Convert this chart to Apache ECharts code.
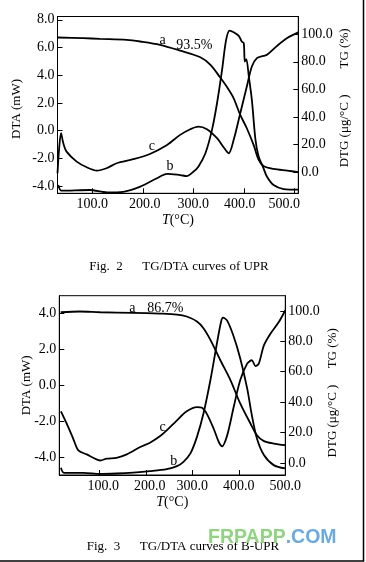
<!DOCTYPE html>
<html><head><meta charset="utf-8">
<script src="https://cdn.jsdelivr.net/npm/echarts@6/dist/echarts.min.js"></script>
<style>html,body{margin:0;padding:0;background:#fff}#c{width:366px;height:562px}</style>
</head><body><div id="c"></div>
<script>
// ---- tick labels ----
const xTicks = [100, 200, 300, 400, 500];
const dtaTicks1 = [-4, -2, 0, 2, 4, 6, 8];
const dtaTicks2 = [-4, -2, 0, 2, 4];
const rightTicks = [0, 20, 40, 60, 80, 100];

// ---- Fig. 2  UPR : [T (°C), value] ----
const tgUPR = [[31,97.6],[82,97.1],[115,96.6],[168,95.9],[195,94.7],[234,92.3],[274,88.1],[314,83.3],[334,77.8],[353,68.8],[367,61.6],[380,53.6],[393,41.5],[406,31.9],[420,19.3],[429,9.4],[439,4.6],[459,2.4],[486,1.2],[508,0.2]];
const dtgUPR = [[32.5,-9.2],[39,-13.3],[95,-12.8],[129,-14.5],[161,-14.1],[195,-10.4],[228,-4.3],[248,-1.1],[274,-2.0],[287,-2.7],[300,0.4],[310,4.1],[324,13.8],[337,30.7],[347,50],[357,74.1],[365,95.9],[372,102.6],[380,101.4],[390,98.8],[396,94.7],[400,93.5],[402,80.2],[405,81.9],[410,69.3],[416,52.4],[423,24],[429,12],[439,3],[446,-3.2],[459,-9.2],[479,-12.1],[508,-12.5]];
const dtaUPR = [[31,-3.08],[34,-1.4],[38,-0.19],[42.5,-0.92],[49,-1.52],[69,-2.24],[89,-2.65],[109,-2.89],[128,-2.72],[148,-2.36],[181,-2.07],[214,-1.69],[248,-1.04],[274,-0.31],[294,0.10],[310,0.29],[327,0.10],[347,-0.55],[360,-1.2],[370,-1.64],[380,-0.67],[393,1.25],[406,3.18],[416,4.63],[426,5.23],[439,5.40],[446,5.47],[466,6.12],[486,6.68],[508,7.09]];

// ---- Fig. 3  B-UPR ----
const tgBUPR = [[17,99.1],[58,99.6],[102,99.1],[173,98.7],[231,98.2],[267,97.6],[288,96.3],[310,93.0],[324,88.6],[339,80.9],[360,67.7],[382,54.5],[403,39.1],[425,25.9],[439,18.2],[454,14.3],[475,12.7],[500,11.6]];
const dtgBUPR = [[17.5,-3.3],[24,-6.6],[66,-6.6],[102,-7.3],[137,-7.0],[173,-6.4],[209,-5.5],[245,-4.2],[267,-2.2],[281,0.7],[296,6.2],[310,17.1],[324,32.5],[339,54.5],[353,78.7],[362,93],[366,95.6],[375,93.6],[389,83.1],[403,68.8],[418,49],[428,31.4],[439,16],[454,5.1],[475,-1.5],[500,-3.7]];
const dtaBUPR = [[17.5,-1.45],[30,-2.14],[44,-2.98],[55,-3.63],[73,-3.85],[94,-4.13],[102,-4.19],[116,-4.09],[137,-4.04],[159,-3.85],[188,-3.44],[209,-3.2],[231,-2.83],[245,-2.51],[267,-1.95],[288,-1.45],[310,-1.21],[321,-1.25],[331,-1.58],[346,-2.42],[357,-3.16],[364,-3.4],[375,-2.79],[389,-1.21],[403,0.28],[418,1.21],[428,1.4],[436,1.07],[443,1.21],[454,2.23],[468,2.88],[486,3.53],[500,4.19]];

// ---- curve annotations [T, value, text] ----
const notesRight1 = [[239,95.4,'a'],[302,92.2,'93.5%'],[254,4.1,'b']];
const notesLeft1 = [[218,-1.16,'c']];
const notesRight2 = [[171,101.8,'a'],[242,101.8,'86.7%'],[260,1.3,'b']];
const notesLeft2 = [[236,-2.33,'c']];

const captions = ['Fig.  2      TG/DTA curves of UPR', 'Fig.  3      TG/DTA curves of B-UPR'];

const SERIF = '"Liberation Serif","Times New Roman",serif';
const fmt = v => v.toFixed(1);
const lblFont = {color: '#000', fontFamily: SERIF, fontSize: 14};

// printed x labels sit a little off their ticks in the scanned figure
function xLabelFmt(shifts) {
  return v => shifts[v] ? '{' + shifts[v] + '|' + fmt(v) + '}' : fmt(v);
}
const xRich = {
  L4: Object.assign({padding: [0, 8, 0, 0]}, lblFont),
  L10: Object.assign({padding: [0, 20, 0, 0]}, lblFont),
  R2: Object.assign({padding: [0, 0, 0, 4]}, lblFont),
  R4: Object.assign({padding: [0, 0, 0, 8]}, lblFont),
  R8: Object.assign({padding: [0, 0, 0, 16]}, lblFont)
};

function xAx(g, min, max, shifts) {
  return {
    type: 'value', gridIndex: g, min, max,
    axisLine: {onZero: false, lineStyle: {color: '#000', width: 1}},
    axisTick: {inside: true, length: 5, customValues: xTicks, lineStyle: {color: '#000'}},
    axisLabel: Object.assign({customValues: xTicks, formatter: xLabelFmt(shifts), margin: 4, rich: xRich}, lblFont),
    splitLine: {show: false},
    name: '{i|T}(°C)', nameLocation: 'middle', nameGap: 20, nameMoveOverlap: false,
    nameTextStyle: {color: '#000', fontFamily: SERIF, fontSize: 14,
      rich: {i: {fontStyle: 'italic', fontFamily: SERIF, fontSize: 14, color: '#000'}}}
  };
}
function yAx(g, pos, min, max, ticks, name, gap, pad) {
  return {
    type: 'value', gridIndex: g, position: pos, min, max,
    axisLine: {show: true, onZero: false, lineStyle: {color: '#000', width: 1}},
    axisTick: {show: true, inside: true, length: 5, customValues: ticks, lineStyle: {color: '#000'}},
    axisLabel: Object.assign({customValues: ticks, formatter: fmt, margin: 3}, lblFont),
    splitLine: {show: false},
    name, nameLocation: 'middle', nameGap: gap, nameRotate: 90, nameMoveOverlap: false,
    nameTextStyle: {color: '#000', fontFamily: SERIF, fontSize: 13, padding: pad}
  };
}
function line(data, xi, yi) {
  return {type: 'line', data, xAxisIndex: xi, yAxisIndex: yi, showSymbol: false, symbol: 'none',
    smooth: 0.3, lineStyle: {color: '#000', width: 1.8}, silent: true};
}
function notes(data, xi, yi) {
  return {type: 'scatter', data, xAxisIndex: xi, yAxisIndex: yi, symbolSize: 0, silent: true,
    itemStyle: {opacity: 1, color: '#000'},
    label: Object.assign({show: true, position: 'inside', formatter: p => p.data[2], opacity: 1}, lblFont)};
}

const chart = echarts.init(document.getElementById('c'), null, {renderer: 'canvas'});
chart.setOption({
  animation: false,
  backgroundColor: '#fff',
  grid: [
    {left: 57.5, top: 16.5, width: 240.8, height: 176.8, show: true, borderColor: '#000', borderWidth: 1, backgroundColor: 'transparent'},
    {left: 59.3, top: 295.7, width: 226, height: 179.3, show: true, borderColor: '#000', borderWidth: 1, backgroundColor: 'transparent'}
  ],
  xAxis: [xAx(0, 31, 508, {200: 'R2', 400: 'L4', 500: 'L10'}), xAx(1, 14, 500, {100: 'R4', 200: 'R4'})],
  yAxis: [
    yAx(0, 'left', -4.53, 8.24, dtaTicks1, 'DTA (mW)', 34, [0, 8, 0, 0]),
    yAx(0, 'right', -15.2, 112.8, rightTicks, 'DTG (μg/°C )        TG (%)', 40, [0, 0, 0, 14]),
    yAx(1, 'left', -5, 5, dtaTicks2, 'DTA (mW)', 26, [0, 0, 0, 0]),
    yAx(1, 'right', -8, 110, rightTicks, 'DTG (μg/°C )     TG (%)', 41, [0, 15, 0, 0])
  ],
  series: [
    line(tgUPR, 0, 1), line(dtgUPR, 0, 1), line(dtaUPR, 0, 0),
    notes(notesRight1, 0, 1), notes(notesLeft1, 0, 0),
    line(tgBUPR, 1, 3), line(dtgBUPR, 1, 3), line(dtaBUPR, 1, 2),
    notes(notesRight2, 1, 3), notes(notesLeft2, 1, 2)
  ],
  graphic: [
    {type: 'text', x: 179, y: 267, style: {text: captions[0], fill: '#000', font: '13px ' + SERIF, textAlign: 'center', textVerticalAlign: 'middle'}},
    {type: 'text', x: 183, y: 547, style: {text: captions[1], fill: '#000', font: '13px ' + SERIF, textAlign: 'center', textVerticalAlign: 'middle'}},
    {type: 'text', x: 208, y: 538, style: {text: '{g|FRPAPP}{b|.COM}', textVerticalAlign: 'middle',
      rich: {g: {fill: '#8fd47e', font: 'bold 19.5px "Liberation Sans",Arial,sans-serif'}, b: {fill: '#6aaae0', font: 'bold 19.5px "Liberation Sans",Arial,sans-serif'}}}},
    {type: 'line', shape: {x1: 363.5, y1: 0, x2: 363.5, y2: 561}, style: {stroke: '#000', lineWidth: 1.5}},
    {type: 'line', shape: {x1: 0, y1: 561, x2: 364.2, y2: 561}, style: {stroke: '#000', lineWidth: 1.5}}
  ]
});
</script></body></html>
